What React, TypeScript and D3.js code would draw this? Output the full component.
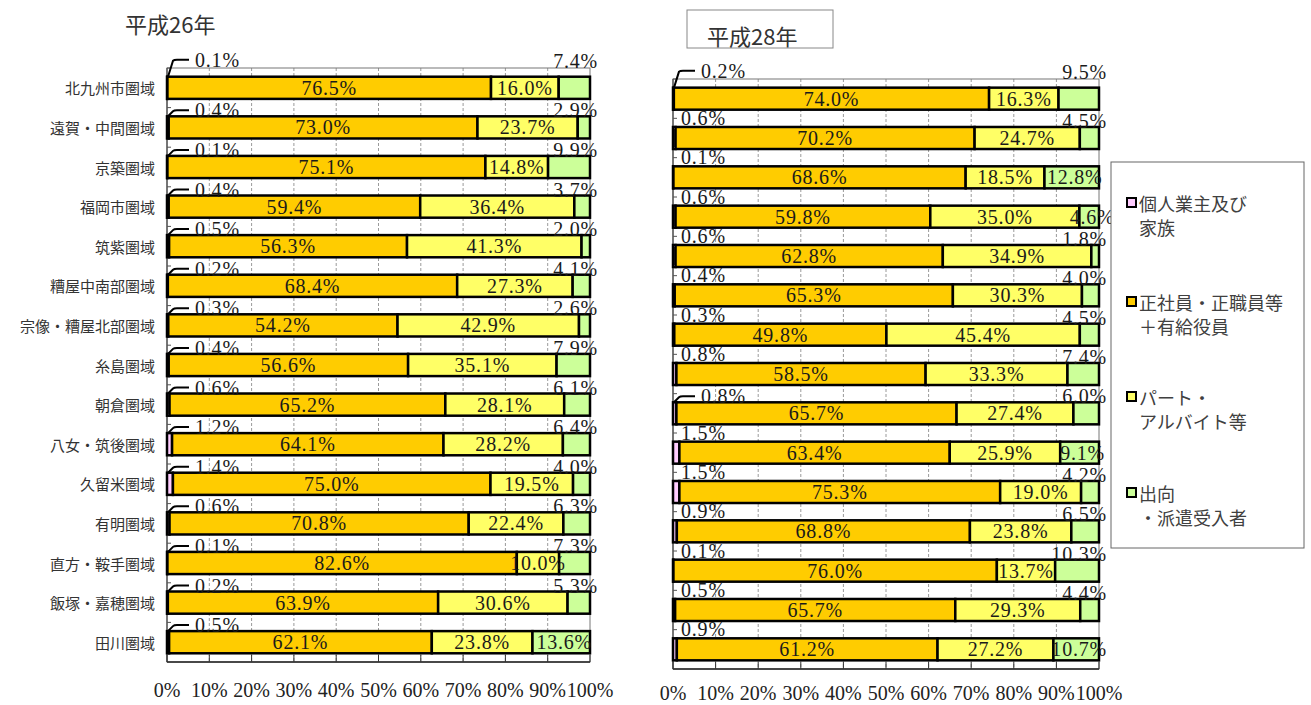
import React from 'react';
import * as d3 from 'd3';

const categories = [
  '北九州市圏域', '遠賀・中間圏域', '京築圏域', '福岡市圏域', '筑紫圏域',
  '糟屋中南部圏域', '宗像・糟屋北部圏域', '糸島圏域', '朝倉圏域', '八女・筑後圏域',
  '久留米圏域', '有明圏域', '直方・鞍手圏域', '飯塚・嘉穂圏域', '田川圏域',
];

// 平成26年
const h26Owner = [0.1, 0.4, 0.1, 0.4, 0.5, 0.2, 0.3, 0.4, 0.6, 1.2, 1.4, 0.6, 0.1, 0.2, 0.5];
const h26Regular = [76.5, 73.0, 75.1, 59.4, 56.3, 68.4, 54.2, 56.6, 65.2, 64.1, 75.0, 70.8, 82.6, 63.9, 62.1];
const h26Part = [16.0, 23.7, 14.8, 36.4, 41.3, 27.3, 42.9, 35.1, 28.1, 28.2, 19.5, 22.4, 10.0, 30.6, 23.8];
const h26Dispatch = [7.4, 2.9, 9.9, 3.7, 2.0, 4.1, 2.6, 7.9, 6.1, 6.4, 4.0, 6.3, 7.3, 5.3, 13.6];

// 平成28年
const h28Owner = [0.2, 0.6, 0.1, 0.6, 0.6, 0.4, 0.3, 0.8, 0.8, 1.5, 1.5, 0.9, 0.1, 0.5, 0.9];
const h28Regular = [74.0, 70.2, 68.6, 59.8, 62.8, 65.3, 49.8, 58.5, 65.7, 63.4, 75.3, 68.8, 76.0, 65.7, 61.2];
const h28Part = [16.3, 24.7, 18.5, 35.0, 34.9, 30.3, 45.4, 33.3, 27.4, 25.9, 19.0, 23.8, 13.7, 29.3, 27.2];
const h28Dispatch = [9.5, 4.5, 12.8, 4.6, 1.8, 4.0, 4.5, 7.4, 6.0, 9.1, 4.2, 6.5, 10.3, 4.4, 10.7];

// label placement modes
const h26DispatchInside = [false, false, false, false, false, false, false, false, false, false, false, false, false, false, true];
const h28DispatchInside = [false, false, true, true, false, false, false, false, false, true, false, false, false, false, true];
const h26OwnerLeader = categories.map(() => true);
const h28OwnerLeader = [true, false, false, false, false, false, false, false, true, false, false, false, false, false, false];

const xTicks = [0, 10, 20, 30, 40, 50, 60, 70, 80, 90, 100];
const seriesKeys = ['owner', 'regular', 'part', 'dispatch'];
const seriesColors = ['#FFCCFF', '#FFCC00', '#FFFF66', '#CCFF99'];
const legendLines = [
  ['個人業主及び', '家族'],
  ['正社員・正職員等', '＋有給役員'],
  ['パート・', 'アルバイト等'],
  ['出向', '・派遣受入者'],
];

const NUM_FONT = '"Liberation Serif", "DejaVu Serif", serif';
const JP_FONT = '"Noto Sans CJK JP", "Noto Sans", sans-serif';
const fmt = (v: number) => d3.format('.1f')(v) + '%';

type PanelProps = {
  frame: { left: number; right: number; top: number; bottom: number };
  owner: number[];
  regular: number[];
  part: number[];
  dispatch: number[];
  dispatchInside: boolean[];
  ownerLeader: boolean[];
  showCategories: boolean;
  tickLabelY: number;
};

function Panel({ frame, owner, regular, part, dispatch, dispatchInside, ownerLeader, showCategories, tickLabelY }: PanelProps) {
  const rows = categories.map((c, i) => ({
    cat: c,
    owner: owner[i],
    regular: regular[i],
    part: part[i],
    dispatch: dispatch[i],
  }));
  const stacked = d3.stack<any>().keys(seriesKeys).offset(d3.stackOffsetExpand)(rows);
  const x = d3.scaleLinear().domain([0, 1]).range([frame.left, frame.right]);
  const y = d3.scaleBand<string>().domain(categories).range([frame.top, frame.bottom]).paddingInner(0.44).paddingOuter(0.22);
  const bh = y.bandwidth();
  const step = y.step();

  return (
    <g>
      {xTicks.slice(1, -1).map((t) => (
        <line key={'g' + t} x1={x(t / 100)} x2={x(t / 100)} y1={frame.top} y2={frame.bottom}
          stroke="#9a9a9a" strokeWidth={1} strokeDasharray="3,2" />
      ))}
      <rect x={frame.left} y={frame.top} width={frame.right - frame.left} height={frame.bottom - frame.top}
        fill="none" stroke="#777" strokeWidth={1} />
      <line x1={frame.left} x2={frame.right} y1={frame.bottom} y2={frame.bottom} stroke="#222" strokeWidth={1.5} />
      <line x1={frame.left} x2={frame.left} y1={frame.top} y2={frame.bottom} stroke="#333" strokeWidth={1} />
      {xTicks.map((t) => (
        <line key={'t' + t} x1={x(t / 100)} x2={x(t / 100)} y1={frame.bottom - 7} y2={frame.bottom}
          stroke="#333" strokeWidth={1} />
      ))}
      {categories.map((c, i) => (
        <line key={'lt' + i} x1={frame.left} x2={frame.left + 4} y1={frame.top + i * step} y2={frame.top + i * step}
          stroke="#555" strokeWidth={1} />
      ))}
      {stacked.map((s, si) => (
        <g key={'s' + si}>
          {s.map((d, i) => (
            <rect key={i} x={x(d[0])} y={y(categories[i])} width={Math.max(0, x(d[1]) - x(d[0]))} height={bh}
              fill={seriesColors[si]} stroke="#000" strokeWidth={2.5} />
          ))}
        </g>
      ))}
      {rows.map((r, i) => {
        const top = y(r.cat) as number;
        const cy = top + bh / 2;
        const regSeg = stacked[1][i];
        const partSeg = stacked[2][i];
        const disSeg = stacked[3][i];
        const aboveDy = i === 0 ? -16 : -6;
        const ownerY = i === 0 ? top - 17 : ownerLeader[i] ? top - 6 : top - 9;
        return (
          <g key={'l' + i} fontFamily={NUM_FONT} fontSize={20} fill="#1a1a1a" letterSpacing={0.8}>
            {ownerLeader[i] ? (
              <>
                <path d={`M${frame.left + 1},${top} L${frame.left + 6},${ownerY + 1} Q${frame.left + 7},${ownerY} ${frame.left + 10},${ownerY} L${frame.left + 22},${ownerY}`}
                  fill="none" stroke="#000" strokeWidth={2} />
                <text x={frame.left + 28} y={ownerY} dominantBaseline="central">{fmt(r.owner)}</text>
              </>
            ) : (
              <text x={frame.left + 8} y={ownerY} dominantBaseline="central">{fmt(r.owner)}</text>
            )}
            <text x={(x(regSeg[0]) + x(regSeg[1])) / 2} y={cy} textAnchor="middle" dominantBaseline="central">{fmt(r.regular)}</text>
            <text x={(x(partSeg[0]) + x(partSeg[1])) / 2} y={cy} textAnchor="middle" dominantBaseline="central">{fmt(r.part)}</text>
            {dispatchInside[i] ? (
              <text x={(x(disSeg[0]) + x(disSeg[1])) / 2 + 3} y={cy} textAnchor="middle" dominantBaseline="central">{fmt(r.dispatch)}</text>
            ) : (
              <text x={frame.right + 8} y={top + aboveDy} textAnchor="end" dominantBaseline="central">{fmt(r.dispatch)}</text>
            )}
          </g>
        );
      })}
      {showCategories && categories.map((c) => (
        <text key={'c' + c} x={frame.left - 12} y={(y(c) as number) + bh / 2} textAnchor="end" dominantBaseline="central"
          fontFamily={JP_FONT} fontSize={15} fill="#333">{c}</text>
      ))}
      {xTicks.map((t) => (
        <text key={'xl' + t} x={x(t / 100)} y={tickLabelY} textAnchor="middle" dominantBaseline="central"
          fontFamily={NUM_FONT} fontSize={20} fill="#222">{t + '%'}</text>
      ))}
    </g>
  );
}

export default function App() {
  return (
    <svg width={1311} height={705} style={{ position: 'absolute', left: 0, top: 0, background: '#fff' }}>
      <rect x={0} y={0} width={1311} height={705} fill="#fff" />
      <text x={125} y={23} dominantBaseline="central" fontFamily={JP_FONT} fontSize={22} fill="#333">平成26年</text>
      <rect x={687} y={10} width={146} height={38} fill="#fff" stroke="#888" strokeWidth={1} />
      <text x={707} y={35} dominantBaseline="central" fontFamily={JP_FONT} fontSize={22} fill="#333">平成28年</text>

      <Panel frame={{ left: 167, right: 590, top: 68, bottom: 662 }} owner={h26Owner} regular={h26Regular}
        part={h26Part} dispatch={h26Dispatch} dispatchInside={h26DispatchInside} ownerLeader={h26OwnerLeader}
        showCategories={true} tickLabelY={690} />
      <Panel frame={{ left: 673, right: 1099, top: 79, bottom: 669 }} owner={h28Owner} regular={h28Regular}
        part={h28Part} dispatch={h28Dispatch} dispatchInside={h28DispatchInside} ownerLeader={h28OwnerLeader}
        showCategories={false} tickLabelY={693} />

      <rect x={1111} y={162} width={193} height={386} fill="#fff" stroke="#666" strokeWidth={1} />
      {legendLines.map((lines, i) => {
        const ys = [203, 302, 397, 493][i];
        return (
          <g key={'lg' + i} fontFamily={JP_FONT} fontSize={18} fill="#404040">
            <rect x={1127} y={ys - 5} width={9} height={9} fill={seriesColors[i]} stroke="#000" strokeWidth={2} />
            <text x={1139} y={ys} dominantBaseline="central">{lines[0]}</text>
            <text x={1139} y={ys + 24} dominantBaseline="central">{lines[1]}</text>
          </g>
        );
      })}
    </svg>
  );
}
